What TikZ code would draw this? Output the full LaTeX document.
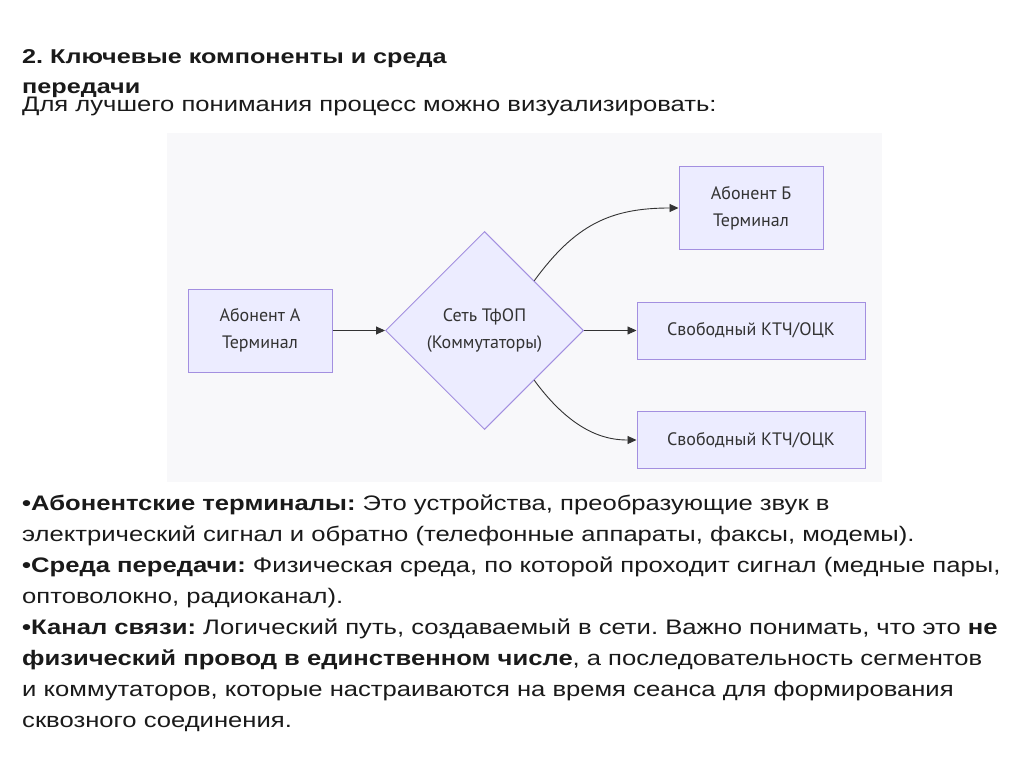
\documentclass[tikz,border=0pt]{standalone}
\usepackage{fontspec}
\setmainfont{Liberation Sans}[FakeStretch=1.22]
\newfontfamily\titlefont{Liberation Sans}[FakeStretch=1.26]
\newfontfamily\mmfont{PT Sans}
\usetikzlibrary{shapes.geometric,arrows.meta}
\definecolor{mmfill}{HTML}{ECECFF}
\definecolor{mmborder}{HTML}{A38FE0}
\definecolor{mmtext}{HTML}{333333}
\definecolor{panelbg}{HTML}{F8F8FA}
\definecolor{bodytext}{HTML}{1A1A1A}
\tikzset{
  mmbox/.style={draw=mmborder, fill=mmfill, line width=1pt, inner sep=0pt,
    text=mmtext, font=\mmfont\fontsize{18}{27}\selectfont, align=center},
  mmdiamond/.style={mmbox, diamond, aspect=1, minimum width=198pt, minimum height=198pt},
  mmarrow/.style={draw=mmtext, line width=0.9pt, -{Triangle[length=9pt,width=8pt]}},
  bodyline/.style={anchor=base west, inner sep=0pt, text=bodytext, font=\fontsize{21}{31}\selectfont},
  titleline/.style={anchor=base west, inner sep=0pt, text=bodytext, font=\titlefont\bfseries\fontsize{20}{28}\selectfont}
}
\frenchspacing
\begin{document}
\begin{tikzpicture}[x=1pt,y=-1pt]
\useasboundingbox (0,0) rectangle (1024,767);
\fill[white] (0,0) rectangle (1024,767);
% diagram panel
\fill[panelbg] (167,133) rectangle (882,482);
% nodes
\node[mmbox, minimum width=144pt, minimum height=83pt] (a) at (260,330.5) {Абонент А\\Терминал};
\node[mmdiamond] (net) at (484.5,330.5) {Сеть ТфОП\\(Коммутаторы)};
\node[mmbox, minimum width=144pt, minimum height=82pt] (b) at (751,208) {Абонент Б\\Терминал};
\node[mmbox, minimum width=228pt, minimum height=57pt] (c) at (751,330.5) {Свободный КТЧ/ОЦК};
\node[mmbox, minimum width=228pt, minimum height=57pt] (d) at (751,440) {Свободный КТЧ/ОЦК};
% connectors
\draw[mmarrow] (a.east) -- (net.west);
\draw[mmarrow] (net.east) -- (c.west);
\draw[mmarrow] (net.north east) .. controls (575,225) and (610,208) .. (b.west);
\draw[mmarrow] (net.south east) .. controls (575,436) and (610,440) .. (d.west);
% title and texts
\node[titleline] (t1) at (22,63.3) {2. Ключевые компоненты и среда};
\node[titleline] (t2) at (22,93.5) {передачи};
\node[bodyline] (intro) at (22,111.5) {Для лучшего понимания процесс можно визуализировать:};
\node[bodyline] (l1) at (22,510) {\textbf{•Абонентские терминалы:} Это устройства, преобразующие звук в};
\node[bodyline] (l2) at (22,541) {электрический сигнал и обратно (телефонные аппараты, факсы, модемы).};
\node[bodyline] (l3) at (22,572) {\textbf{•Среда передачи:} Физическая среда, по которой проходит сигнал (медные пары,};
\node[bodyline] (l4) at (22,603) {оптоволокно, радиоканал).};
\node[bodyline] (l5) at (22,634) {\textbf{•Канал связи:} Логический путь, создаваемый в сети. Важно понимать, что это \textbf{не}};
\node[bodyline] (l6) at (22,665) {\textbf{физический провод в единственном числе}, а последовательность сегментов};
\node[bodyline] (l7) at (22,696) {и коммутаторов, которые настраиваются на время сеанса для формирования};
\node[bodyline] (l8) at (22,727) {сквозного соединения.};
\end{tikzpicture}
\end{document}
